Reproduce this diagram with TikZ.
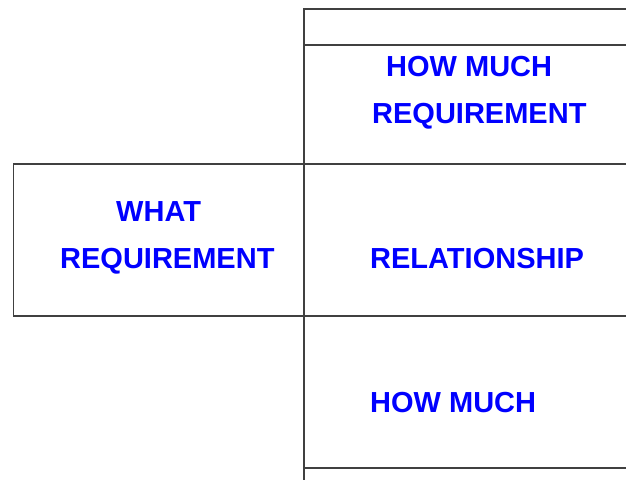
\documentclass[tikz,border=0pt]{standalone}
\usepackage{fontspec}
\setmainfont{Liberation Sans}
\begin{document}
\begin{tikzpicture}[x=1pt,y=1pt,
  rule/.style={draw=black!75,line width=1.3pt},
  label/.style={anchor=base west,inner sep=0pt,text=blue,
    font=\fontsize{29}{29}\selectfont\bfseries}]
\useasboundingbox (0,0) rectangle (626,479);
% grid corners
\coordinate (tl) at (304,470);
\coordinate (tr) at (630,470);
\coordinate (h1l) at (304,434);
\coordinate (h1r) at (630,434);
\coordinate (h2l) at (13.5,315);
\coordinate (h2r) at (630,315);
\coordinate (h3l) at (13.5,163);
\coordinate (h3r) at (630,163);
\coordinate (h4l) at (304,11);
\coordinate (h4r) at (630,11);
\coordinate (bot) at (304,-2);
% lines of the chart
\draw[rule] (tr) -- (tl) -- (bot);
\draw[rule] (h1l) -- (h1r);
\draw[rule] (h2r) -- (h2l) -- (h3l) -- (h3r);
\draw[rule] (h4l) -- (h4r);
% labels
\node[label] (hm1) at (386,402) {HOW MUCH};
\node[label] (hm2) at (372,355) {REQUIREMENT};
\node[label] (what) at (116,257) {WHAT};
\node[label] (wreq) at (60,210) {REQUIREMENT};
\node[label] (rel) at (370,210) {RELATIONSHIP};
\node[label] (hm3) at (370,66) {HOW MUCH};
\end{tikzpicture}
\end{document}
